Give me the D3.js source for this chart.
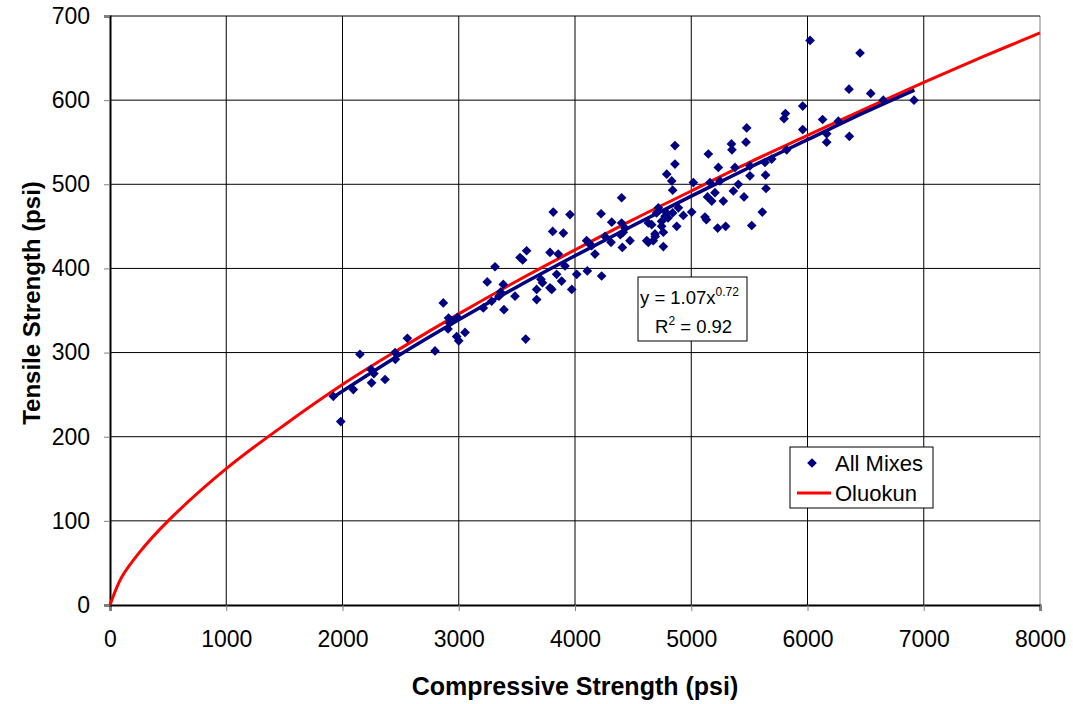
<!DOCTYPE html>
<html>
<head>
<meta charset="utf-8">
<script src="https://cdn.jsdelivr.net/npm/d3@7"></script>
<style>
  body { margin: 0; background: #fff; }
  text { font-family: Arial, "Liberation Sans", sans-serif; }
</style>
</head>
<body>
<div id="chart"></div>
<script>
// scatter data, All Mixes (psi)
const compressive = [1921,1985,2093,2150,2245,2250,2270,2366,2452,2455,2558,2796,2867,2912,2920,2908,2940,2989,2982,3000,
  3054,3211,3245,3312,3283,3346,3360,3383,3389,3484,3527,3584,3576,3670,3670,3707,3720,3785,3800,3785,
  3856,3842,3885,3914,3813,3957,3808,3900,3972,4015,4106,4229,4100,4143,4172,4224,4258,4310,4316,4401,
  4401,4415,4407,4473,4390,4430,4617,4631,4631,4660,4673,4688,4690,4717,4702,4745,4745,4760,4760,4789,
  4789,4832,4840,4840,4860,4860,4875,4889,4932,5004,5018,4800,4775,5118,5140,5147,5161,5176,5204,5227,
  5233,5247,5276,5296,5346,5350,5362,5376,5405,5454,5471,5477,5505,5505,5520,5611,5634,5639,5643,5692,
  5798,5810,5821,5959,5959,6022,6130,6165,6165,6265,6357,6360,6452,6544,6652,6916,5130,3550,4120];
const tensile = [248,218,256,298,280,264,275,268,300,292,317,302,359,341,335,328,338,342,319,314,
  324,353,384,402,361,367,372,381,351,367,413,421,316,375,363,387,383,377,375,419,
  417,393,385,403,467,464,444,442,375,393,397,391,433,427,417,465,438,431,455,454,
  484,443,425,433,440,448,433,431,454,452,433,441,438,472,466,456,450,443,426,466,
  512,504,466,493,546,524,450,472,463,467,502,460,462,461,485,536,502,480,490,448,
  520,504,480,450,548,541,492,520,500,485,550,567,522,510,451,467,526,511,495,530,
  578,584,541,593,565,671,577,560,550,575,613,557,656,608,600,600,458,410,430];

// Oluokun curve
const oluokunX = [0,100,250,500,1000,1500,2000,2500,3000,3500,4000,4500,5000,5500,6000,6500,7000,7500,8000];
const oluokunY = [0,33,62,100,162,214,262,305,346,385,422,458,492,526,558,590,621,651,680];

// power trendline of All Mixes
const trendX = [1920,2500,3000,3500,4000,4500,5000,5500,6000,6500,6920];
const trendY = [247,298,339,378,415,451,486,520,553,586,612];

const xTicks = [0,1000,2000,3000,4000,5000,6000,7000,8000];
const yTicks = [0,100,200,300,400,500,600,700];

const width = 1073, height = 704;
const margin = {left: 110, right: 33, top: 16, bottom: 99};

const svg = d3.select('#chart').append('svg')
    .attr('width', width)
    .attr('height', height);

const x = d3.scaleLinear().domain([0, 8000]).range([margin.left, width - margin.right]);
const y = d3.scaleLinear().domain([0, 700]).range([height - margin.bottom, margin.top]);

// grid
svg.append('g').selectAll('line').data(xTicks.slice(1)).join('line')
    .attr('x1', d => x(d)).attr('x2', d => x(d))
    .attr('y1', y(0)).attr('y2', y(700))
    .attr('stroke', d => d === 8000 ? '#808080' : '#000')
    .attr('stroke-width', 1);
svg.append('g').selectAll('line').data(yTicks.slice(1)).join('line')
    .attr('x1', x(0)).attr('x2', x(8000))
    .attr('y1', d => y(d)).attr('y2', d => y(d))
    .attr('stroke', '#000')
    .attr('stroke-width', 1);

// axes
const xAxis = svg.append('g')
    .attr('transform', `translate(0,${y(0)})`)
    .call(d3.axisBottom(x).tickValues(xTicks).tickFormat(d3.format('d')).tickSize(6).tickPadding(20));
const yAxis = svg.append('g')
    .attr('transform', `translate(${x(0)},0)`)
    .call(d3.axisLeft(y).tickValues(yTicks).tickSize(6).tickPadding(14));

[xAxis, yAxis].forEach(a => {
    a.select('.domain').attr('stroke', '#000').attr('stroke-width', 2);
    a.selectAll('.tick line').attr('stroke', '#808080');
    a.selectAll('.tick text')
        .style('font-size', '23px')
        .style('font-family', 'Arial, "Liberation Sans", sans-serif')
        .attr('fill', '#000');
});

// Oluokun
svg.append('path')
    .datum(d3.zip(oluokunX, oluokunY))
    .attr('d', d3.line().x(d => x(d[0])).y(d => y(d[1])).curve(d3.curveCatmullRom))
    .attr('fill', 'none')
    .attr('stroke', '#ff0000')
    .attr('stroke-width', 3);

// scatter
const diamond = d3.symbol().type(d3.symbolDiamond2).size(60);
svg.append('g').selectAll('path').data(d3.zip(compressive, tensile)).join('path')
    .attr('d', diamond)
    .attr('transform', d => `translate(${x(d[0])},${y(d[1])})`)
    .attr('fill', '#000080');

// trendline
svg.append('path')
    .datum(d3.zip(trendX, trendY))
    .attr('d', d3.line().x(d => x(d[0])).y(d => y(d[1])).curve(d3.curveCatmullRom))
    .attr('fill', 'none')
    .attr('stroke', '#000080')
    .attr('stroke-width', 3.5);

// equation box
const eq = svg.append('g').attr('transform', 'translate(638,277)');
eq.append('rect').attr('width', 109).attr('height', 64)
    .attr('fill', '#fff').attr('stroke', '#000').attr('stroke-width', 1);
const t1 = eq.append('text').attr('x', 2).attr('y', 27).style('font-size', '18.5px');
t1.append('tspan').text('y = 1.07x');
t1.append('tspan').attr('dy', -8).style('font-size', '12px').text('0.72');
const t2 = eq.append('text').attr('x', 17).attr('y', 56).style('font-size', '18.5px');
t2.append('tspan').text('R');
t2.append('tspan').attr('dy', -8).style('font-size', '12px').text('2');
t2.append('tspan').attr('dy', 8).text(' = 0.92');

// legend
const lg = svg.append('g').attr('transform', 'translate(790,447)');
lg.append('rect').attr('width', 143).attr('height', 61)
    .attr('fill', '#fff').attr('stroke', '#000').attr('stroke-width', 1);
lg.append('path').attr('d', diamond).attr('transform', 'translate(22,16)').attr('fill', '#000080');
lg.append('text').attr('x', 45).attr('y', 24).style('font-size', '22px').text('All Mixes');
lg.append('line').attr('x1', 7).attr('x2', 41).attr('y1', 46).attr('y2', 46)
    .attr('stroke', '#ff0000').attr('stroke-width', 3);
lg.append('text').attr('x', 45).attr('y', 54).style('font-size', '22px').text('Oluokun');

// axis titles
svg.append('text')
    .attr('x', 575).attr('y', 695)
    .attr('text-anchor', 'middle')
    .style('font-size', '25px').style('font-weight', 'bold')
    .text('Compressive Strength (psi)');
svg.append('text')
    .attr('transform', 'translate(40,303) rotate(-90)')
    .attr('text-anchor', 'middle')
    .style('font-size', '24px').style('font-weight', 'bold')
    .text('Tensile Strength (psi)');
</script>
</body>
</html>
